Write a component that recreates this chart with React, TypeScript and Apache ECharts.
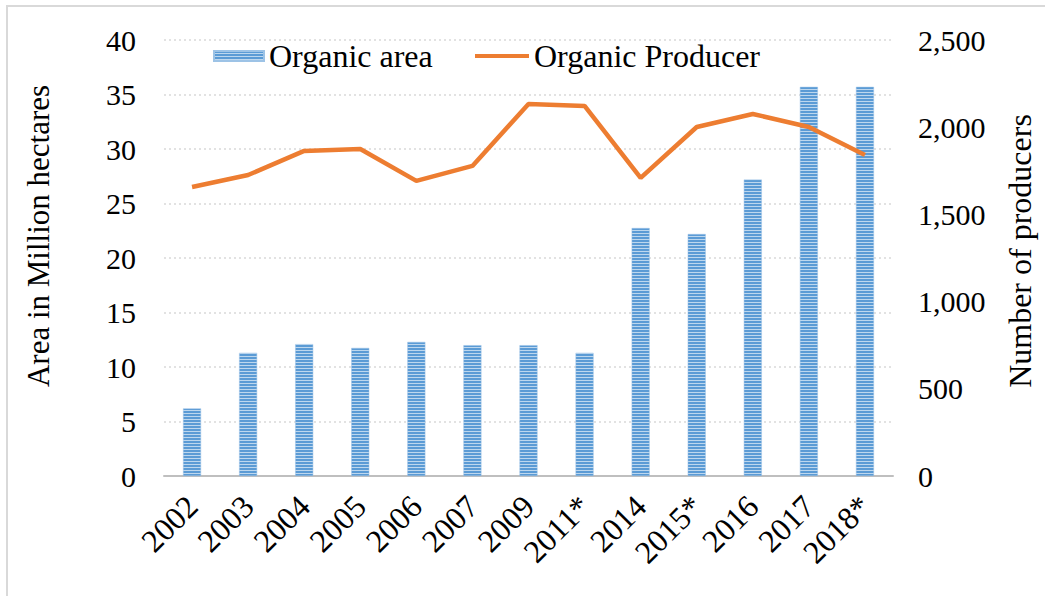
import React, { useEffect, useRef } from "react";
import * as echarts from "echarts";

const categories = ["2002", "2003", "2004", "2005", "2006", "2007", "2009", "2011*", "2014", "2015*", "2016", "2017", "2018*"];
const organicArea = [6.2, 11.3, 12.1, 11.75, 12.3, 12.0, 12.0, 11.3, 22.75, 22.2, 27.2, 35.7, 35.7];
const organicProducer = [1657, 1726, 1864, 1875, 1692, 1778, 2133, 2122, 1709, 2001, 2076, 2001, 1841];
const leftTicks = { min: 0, max: 40, interval: 5 };
const rightTicks = { min: 0, max: 2500, interval: 500 };

const FONT = "'Liberation Serif', 'Times New Roman', serif";
const FS = 30;
const LEGEND_FS = 32;

function makeStripe(): string {
  const c = document.createElement("canvas");
  c.width = 4;
  c.height = 3;
  const ctx = c.getContext("2d")!;
  ctx.fillStyle = "#5B9BD5";
  ctx.fillRect(0, 0, 4, 2);
  ctx.fillStyle = "#BDD7EE";
  ctx.fillRect(0, 2, 4, 1);
  return c.toDataURL();
}

export default function App() {
  const ref = useRef<HTMLDivElement>(null);
  useEffect(() => {
    if (!ref.current) return;
    const chart = echarts.init(ref.current, undefined, { renderer: "svg" });
    const stripe = { image: makeStripe(), repeat: "repeat" } as any;
    chart.setOption({
      animation: false,
      backgroundColor: "#ffffff",
      textStyle: { fontFamily: FONT },
      grid: { left: 164, right: 152, top: 40, bottom: 120, containLabel: false },
      legend: [
        {
          left: 208,
          top: 35,
          itemWidth: 50,
          itemHeight: 10,
          textStyle: { fontFamily: FONT, fontSize: LEGEND_FS, color: "#000" },
          data: [{ name: "Organic area", icon: "rect" }],
        },
        {
          left: 470,
          top: 35,
          itemWidth: 54,
          itemHeight: 4,
          textStyle: { fontFamily: FONT, fontSize: LEGEND_FS, color: "#000" },
          data: [{ name: "Organic Producer", icon: "rect", itemStyle: { color: "#ED7D31" } }],
        },
      ],
      xAxis: {
        type: "category",
        data: categories,
        axisLine: { lineStyle: { color: "#bfbfbf", width: 2 } },
        axisTick: { show: false },
        axisLabel: {
          interval: 0,
          rotate: 45,
          fontFamily: FONT,
          fontSize: 32,
          color: "#000",
          margin: 25,
        },
      },
      yAxis: [
        {
          type: "value",
          ...leftTicks,
          axisLine: { show: false },
          axisTick: { show: false },
          axisLabel: { fontFamily: FONT, fontSize: FS, color: "#000", margin: 28 },
          splitLine: { lineStyle: { color: "#d9d9d9", type: [2, 3], width: 1.5 } },
        },
        {
          type: "value",
          ...rightTicks,
          position: "right",
          axisLine: { show: false },
          axisTick: { show: false },
          axisLabel: {
            fontFamily: FONT,
            fontSize: FS,
            color: "#000",
            margin: 25,
            formatter: (v: number) => v.toLocaleString("en-US"),
          },
          splitLine: { show: false },
        },
      ],
      series: [
        {
          name: "Organic area",
          type: "bar",
          data: organicArea,
          barWidth: 18,
          itemStyle: { color: stripe, borderColor: "#9DC3E6", borderWidth: 0.5 },
        },
        {
          name: "Organic Producer",
          type: "line",
          yAxisIndex: 1,
          data: organicProducer,
          showSymbol: false,
          symbol: "none",
          lineStyle: { color: "#ED7D31", width: 4.5 },
          itemStyle: { color: "#ED7D31" },
        },
      ],
      graphic: [
        {
          type: "text",
          x: 38,
          y: 236,
          rotation: Math.PI / 2,
          style: {
            text: "Area in Million hectares",
            font: `31px ${FONT}`,
            fill: "#000",
            textAlign: "center",
            textVerticalAlign: "middle",
          },
        },
        {
          type: "text",
          x: 1020,
          y: 251,
          rotation: Math.PI / 2,
          style: {
            text: "Number of producers",
            font: `32px ${FONT}`,
            fill: "#000",
            textAlign: "center",
            textVerticalAlign: "middle",
          },
        },
        {
          type: "line",
          shape: { x1: 7, y1: 6, x2: 7, y2: 596 },
          style: { stroke: "#d9d9d9", lineWidth: 2 },
        },
        {
          type: "line",
          shape: { x1: 6, y1: 6, x2: 1045, y2: 6 },
          style: { stroke: "#d9d9d9", lineWidth: 2 },
        },
      ],
    });
    return () => chart.dispose();
  }, []);
  return (
    <div
      ref={ref}
      style={{ position: "fixed", left: 0, top: 0, width: 1045, height: 596 }}
    />
  );
}
